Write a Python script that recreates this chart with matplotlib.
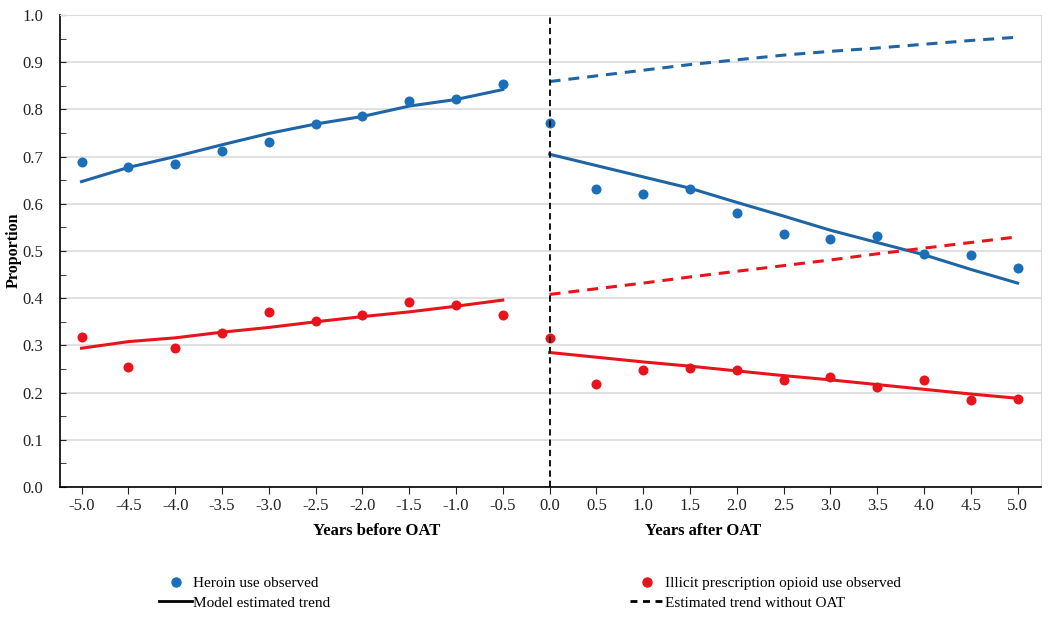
import matplotlib as mpl
mpl.use('Agg')
import matplotlib.pyplot as plt
from matplotlib.lines import Line2D

plt.rcParams['font.family'] = ['Liberation Serif', 'DejaVu Serif']

years_before = [-5.0, -4.5, -4.0, -3.5, -3.0, -2.5, -2.0, -1.5, -1.0, -0.5]
years_after = [0.0, 0.5, 1.0, 1.5, 2.0, 2.5, 3.0, 3.5, 4.0, 4.5, 5.0]

heroin_obs_before = [0.688, 0.678, 0.685, 0.712, 0.730, 0.770, 0.786, 0.818, 0.822, 0.853]
heroin_obs_after = [0.772, 0.632, 0.620, 0.632, 0.580, 0.537, 0.525, 0.531, 0.494, 0.491, 0.463]
heroin_fit_before = [0.647, 0.677, 0.700, 0.725, 0.749, 0.769, 0.785, 0.807, 0.821, 0.842]
heroin_fit_after = [0.705, 0.681, 0.657, 0.633, 0.603, 0.574, 0.544, 0.518, 0.492, 0.461, 0.432]
heroin_noOAT = [0.859, 0.871, 0.883, 0.895, 0.905, 0.915, 0.923, 0.930, 0.938, 0.946, 0.953]

illicit_obs_before = [0.318, 0.254, 0.294, 0.326, 0.370, 0.352, 0.364, 0.392, 0.386, 0.364]
illicit_obs_after = [0.316, 0.218, 0.248, 0.252, 0.248, 0.227, 0.232, 0.211, 0.227, 0.185, 0.187]
illicit_fit_before = [0.294, 0.308, 0.316, 0.328, 0.338, 0.350, 0.361, 0.371, 0.383, 0.396]
illicit_fit_after = [0.285, 0.275, 0.265, 0.256, 0.246, 0.236, 0.227, 0.217, 0.207, 0.197, 0.188]
illicit_noOAT = [0.408, 0.420, 0.432, 0.445, 0.457, 0.469, 0.481, 0.494, 0.506, 0.518, 0.530]

xticks = years_before + years_after
blue = '#1a6fb8'
blue_line = '#1f65a6'
red = '#e8141c'
dash = (0, (3.6, 2.6))

fig = plt.figure(figsize=(10.5, 6.21), dpi=100)
ax = fig.add_axes([60/1050, 134/621, 981/1050, 472/621])

# trend lines
ax.plot(years_before, heroin_fit_before, color=blue_line, lw=2.2)
ax.plot(years_after, heroin_fit_after, color=blue_line, lw=2.2)
ax.plot(years_after, heroin_noOAT, color=blue_line, lw=2.2, linestyle=dash)
ax.plot(years_before, illicit_fit_before, color=red, lw=2.2)
ax.plot(years_after, illicit_fit_after, color=red, lw=2.2)
ax.plot(years_after, illicit_noOAT, color=red, lw=2.2, linestyle=dash)

# observed points
ax.scatter(years_before + years_after, heroin_obs_before + heroin_obs_after,
           s=52, color=blue, zorder=3, linewidths=0)
ax.scatter(years_before + years_after, illicit_obs_before + illicit_obs_after,
           s=52, color=red, zorder=3, linewidths=0)

ax.axvline(0, color='black', lw=1.3, linestyle=(0, (3.5, 2.2)), zorder=4)

ax.set_xlim(-5.23, 5.25)
ax.set_ylim(0, 1.0)
ax.set_yticks([i / 10 for i in range(11)])
ax.set_yticks([i / 20 for i in range(21)], minor=True)
ax.set_yticklabels(['%.1f' % (i / 10) for i in range(11)])
ax.set_xticks(xticks)
ax.set_xticklabels(['%.1f' % x for x in xticks])
ax.grid(axis='y', color='#dcdcdc', lw=1.2)
ax.set_axisbelow(True)

for s in ['top', 'right']:
    ax.spines[s].set_color('#dcdcdc')
for s in ['left', 'bottom']:
    ax.spines[s].set_color('black')
    ax.spines[s].set_linewidth(1.2)

ax.tick_params(axis='y', which='both', direction='in', length=4, labelsize=12, pad=12, colors='#222222')
ax.tick_params(axis='x', direction='out', length=5, labelsize=12, pad=3, colors='#222222')

fig.text(14/1050, 1 - 250/621, 'Proportion', rotation=90, ha='center', va='center',
         fontsize=11.5, fontweight='bold')
fig.text(377/1050, 1 - 531/621, 'Years before OAT', ha='center', va='center',
         fontsize=12, fontweight='bold')
fig.text(703/1050, 1 - 531/621, 'Years after OAT', ha='center', va='center',
         fontsize=12, fontweight='bold')

handles = [
    Line2D([], [], color=blue, marker='o', linestyle='none', markersize=6.5),
    Line2D([], [], color='black', lw=2),
    Line2D([], [], color=red, marker='o', linestyle='none', markersize=6.5),
    Line2D([], [], color='black', lw=2, linestyle=(0, (2.5, 2))),
]
labels = ['Heroin use observed', 'Model estimated trend',
          'Illicit prescription opioid use observed', 'Estimated trend without OAT']
fig.legend(handles, labels, ncol=2, frameon=False, fontsize=11,
           loc='center left', bbox_to_anchor=(145/1050, 1 - 593/621),
           handlelength=2.2, handletextpad=0.05, columnspacing=19.65,
           labelspacing=0.4)

fig.savefig('out.png', dpi=100)
